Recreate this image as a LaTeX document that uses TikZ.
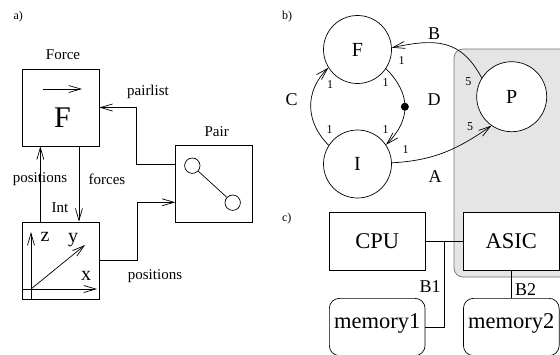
\documentclass[tikz,border=0pt]{standalone}
\usepackage{fontspec}
\IfFontExistsTF{LiberationSerif-Regular.ttf}
  {\setmainfont{LiberationSerif-Regular.ttf}[BoldFont=LiberationSerif-Bold.ttf]}
  {\setmainfont{Liberation Serif}}
\usetikzlibrary{arrows.meta,calc}
\newcommand\setfs[1]{\fontsize{#1}{#1}\selectfont}
\begin{document}
\begin{tikzpicture}[x=1pt,y=-1pt,line width=0.7pt,
  arr/.style={-{Straight Barb[length=12pt,width=7pt,line width=0.7pt]}},
  box/.style={draw,inner sep=0pt},
  sq/.style={box,minimum width=77pt,minimum height=77pt},
  cbox/.style={box,minimum width=95.7pt,minimum height=57.3pt,font=\setfs{22.5}},
  mbox/.style={box,rounded corners=10pt,minimum width=95.7pt,minimum height=57.3pt},
  circ/.style={circle,draw,fill=white,inner sep=0pt},
  lbl/.style={inner sep=0pt,font=\setfs{15}},
  tag/.style={inner sep=0pt,font=\setfs{12}},
  num/.style={inner sep=0pt,font=\setfs{12}},
  big/.style={inner sep=0pt,font=\setfs{18}},
  axl/.style={inner sep=0pt,font=\setfs{20}},
  dotn/.style={circle,fill=black,inner sep=0pt,minimum size=8pt}]
\path[use as bounding box] (0,0) rectangle (560,354);
\clip (0,0) rectangle (560,354);

% grey region
\draw[fill=gray!20,draw=black!55,rounded corners=9pt] (454,49) rectangle (580,277);

% ---------- a)
\node[tag] (ta) at (18.3,16.7) {a)};
\node[sq] (force) at (60.5,107.5) {};
\node[lbl] (lforce) at (63,55) {Force};
\node[inner sep=0pt,font=\setfs{30}] (bigF) at (62.5,118) {F};
\coordinate (va) at (43,89);
\coordinate (vb) at (82,89);
\draw[arr] (va) -- (vb);

\node[sq] (int) at (60.5,260.5) {};
\node[lbl] (lint) at (60,208) {Int};
\coordinate (o) at (31,289);
\coordinate (zb) at (31,299);
\coordinate (zt) at (31,232);
\coordinate (xl) at (22,289);
\coordinate (xr) at (97,289);
\coordinate (yt) at (85,245);
\draw[arr] (zb) -- (zt);
\draw[arr] (xl) -- (xr);
\draw[arr] (o) -- (yt);
\node[axl] (lz) at (45,237) {z};
\node[axl] (ly) at (73,240) {y};
\node[axl] (lx) at (86,276) {x};

\node[box,minimum width=76.6pt,minimum height=77pt] (pair) at (214,183.8) {};
\node[lbl] (lpair) at (216.7,131.7) {Pair};
\node[circ,minimum size=15.4pt] (pc1) at (192.3,165.7) {};
\node[circ,minimum size=15.4pt] (pc2) at (232.7,202.7) {};
\draw (pc1) -- (pc2);

\node[lbl] (lpos1) at (40,179) {positions};
\node[lbl] (lforces) at (107,179) {forces};
\draw[arr] ([xshift=18.7pt]int.north west) -- ([xshift=18.7pt]force.south west);
\draw[arr] ([xshift=57.3pt]force.south west) -- ([xshift=57.3pt]int.north west);

\draw[arr] ([yshift=19.5pt]pair.west) -- ++(-38.7,0) |- (force.east);
\node[lbl] (lpairlist) at (148,92.3) {pairlist};
\draw[arr] (int.east) -- ++(38,0) |- ([yshift=-18.5pt]pair.west);
\node[lbl] (lpos2) at (155,276) {positions};

% ---------- b)
\node[tag] (tb) at (287,17) {b)};
\node[circ,minimum size=68pt,font=\setfs{20}] (F) at (357.5,49.5) {F};
\node[circ,minimum size=68pt,font=\setfs{20}] (I) at (357.5,164) {I};
\node[circ,minimum size=70pt,font=\setfs{20}] (P) at (511.7,96.7) {P};

\draw[arr] (F.-34) to[out=-45,in=45,looseness=1.2] node[pos=0.5,dotn] (dot) {} (I.34);
\draw[arr] (I.147) to[out=135,in=-135,looseness=1.1] (F.-148);
\draw[arr] (P.148) to[out=118,in=12,looseness=1.2] (F.3);
\draw[arr] (I.2) to[out=3,in=-145] (P.-125);

\node[big] (lB) at (434,33.3) {B};
\node[big] (lD) at (434,100) {D};
\node[big] (lC) at (291.7,100) {C};
\node[big] (lA) at (435,176.7) {A};
\node[num] (n1) at (401.7,60.5) {1};
\node[num] (n2) at (468.3,81.7) {5};
\node[num] (n3) at (385.5,83) {1};
\node[num] (n4) at (385.5,129.5) {1};
\node[num] (n5) at (330,85) {1};
\node[num] (n6) at (329.5,129.5) {1};
\node[num] (n7) at (405.5,150) {1};
\node[num] (n8) at (470,126.7) {5};

% ---------- c)
\node[tag] (tc) at (286.7,218.3) {c)};
\node[cbox] (cpu) at (377.2,241.3) {CPU};
\node[cbox,fill=white] (asic) at (511.3,241.3) {ASIC};
\node[mbox] (mem1) at (377.2,327) {};
\node[mbox] (mem2) at (511.3,327) {};
\node[inner sep=0pt,font=\setfs{22.5},anchor=base] (tm1) at (377.2,328) {memory1};
\node[inner sep=0pt,font=\setfs{22.5},anchor=base] (tm2) at (511.3,328) {memory2};
\draw (cpu.east) -- (asic.west);
\coordinate (j) at ($(cpu.east)!0.5!(asic.west)$);
\draw (j) |- (mem1.east);
\draw (asic.south) -- (mem2.north);
\node[big] (lB1) at (430,286.7) {B1};
\node[big] (lB2) at (525.7,289.3) {B2};
\end{tikzpicture}
\end{document}
